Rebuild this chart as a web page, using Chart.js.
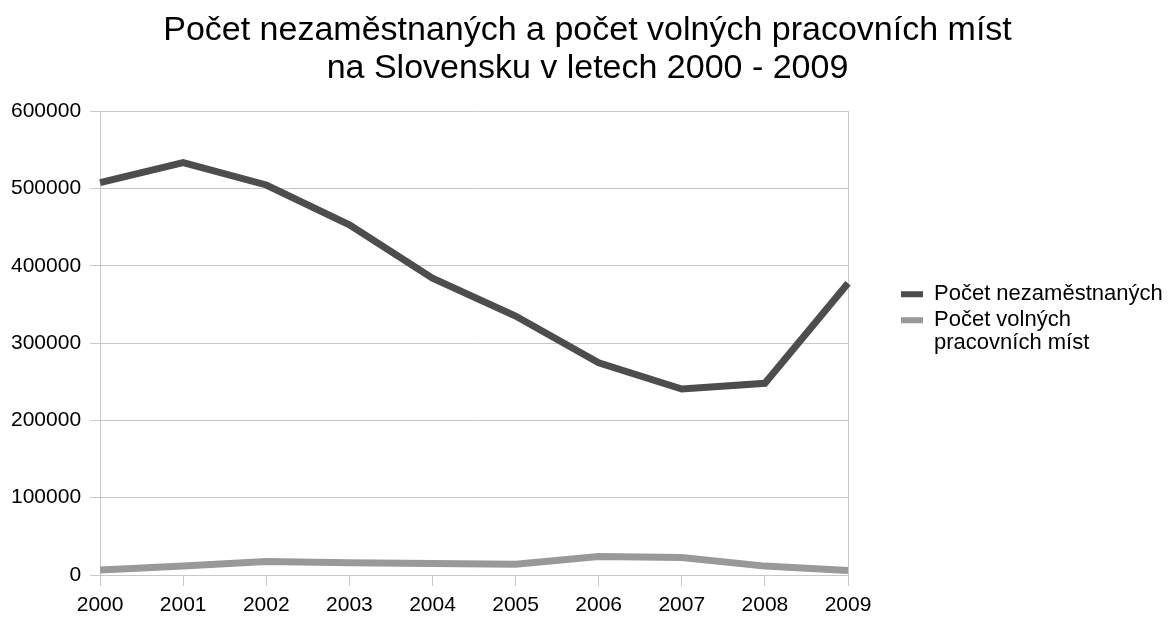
<!DOCTYPE html>
<html>
<head>
<meta charset="utf-8">
<script src="https://cdn.jsdelivr.net/npm/chart.js@4/dist/chart.umd.min.js"></script>
<style>
  html, body { margin: 0; padding: 0; background: #fff; }
  #wrap { width: 1173px; height: 617px; }
</style>
</head>
<body>
<div id="wrap"><canvas id="graf"></canvas></div>
<script>
// roky a hodnoty
const years = ["2000", "2001", "2002", "2003", "2004", "2005", "2006", "2007", "2008", "2009"];
const nezamestnani = [507500, 533500, 504500, 453000, 384000, 335000, 274500, 240500, 248000, 377500];
const volnaMista = [6500, 11500, 17500, 16000, 15000, 14000, 23800, 22500, 11500, 5700];
const seriesNames = ["Počet nezaměstnaných", ["Počet volných", "pracovních míst"]];
const titleLines = ["Počet nezaměstnaných a počet volných pracovních míst", "na Slovensku v letech 2000 - 2009"];

const gridColor = "#c8c8c8";
Chart.defaults.font.family = "'Liberation Sans', Arial, sans-serif";
Chart.defaults.color = "#000";

// legenda: pevna sirka, pak posun na misto jako v originale
const legendPlace = {
    id: "legendPlace",
    beforeLayout(chart) {
        const lg = chart.legend;
        if (lg && !lg._fixed) {
            const fit = lg.fit.bind(lg);
            lg.fit = function () { fit(); this.width = 325; };
            lg._fixed = true;
        }
    },
    afterLayout(chart) {
        const lg = chart.legend;
        lg.left = chart.chartArea.right + 49;
        lg.right = lg.left + lg.width;
        lg.top = chart.chartArea.top + 168;
        lg.bottom = lg.top + 200;
    }
};

new Chart(document.getElementById("graf"), {
    type: "line",
    data: {
        labels: years,
        datasets: [{
            label: "Počet nezaměstnaných",
            data: nezamestnani,
            borderColor: "#4d4d4d",
            backgroundColor: "#4d4d4d",
            borderWidth: 7,
            pointRadius: 0,
            tension: 0
        }, {
            label: "Počet volných pracovních míst",
            data: volnaMista,
            borderColor: "#999999",
            backgroundColor: "#999999",
            borderWidth: 7,
            pointRadius: 0,
            tension: 0
        }]
    },
    options: {
        responsive: true,
        maintainAspectRatio: false,
        animation: false,
        layout: { padding: { left: 2, right: 0, bottom: 0, top: 12 } },
        plugins: {
            title: {
                display: true,
                text: titleLines,
                font: { size: 34, weight: "normal", lineHeight: 1.12 },
                color: "#000",
                padding: { top: 0, bottom: 23 }
            },
            legend: {
                position: "right",
                align: "start",
                labels: {
                    boxWidth: 22,
                    boxHeight: 6,
                    padding: 4,
                    font: { size: 22, lineHeight: 1.05 },
                    color: "#000",
                    generateLabels: chart => chart.data.datasets.map((ds, i) => ({
                        text: seriesNames[i],
                        fillStyle: ds.borderColor,
                        strokeStyle: ds.borderColor,
                        lineWidth: 0,
                        datasetIndex: i
                    }))
                }
            },
            tooltip: { enabled: false }
        },
        scales: {
            x: {
                grid: {
                    color: ctx => ctx.index === years.length - 1 ? gridColor : "rgba(0,0,0,0)",
                    tickLength: 11,
                    tickColor: gridColor
                },
                border: { color: gridColor },
                ticks: { font: { size: 21 }, padding: 7, maxRotation: 0 },
                afterFit: scale => { scale.height = 42; }
            },
            y: {
                min: 0,
                max: 600000,
                ticks: {
                    stepSize: 100000,
                    font: { size: 21 },
                    padding: 9,
                    callback: v => String(v)
                },
                grid: { color: gridColor, tickLength: 10 },
                border: { color: gridColor }
            }
        }
    },
    plugins: [legendPlace]
});
</script>
</body>
</html>
